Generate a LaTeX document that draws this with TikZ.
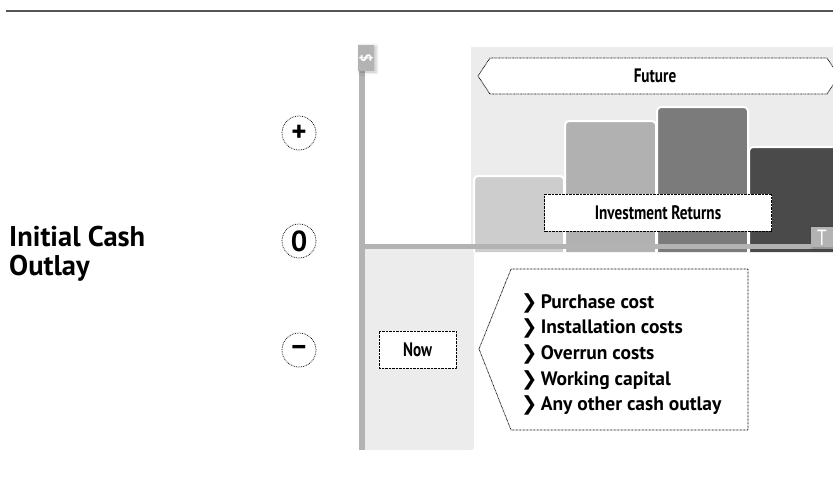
\documentclass[tikz,border=0pt]{standalone}
\usepackage{fontspec}
\setmainfont{PT Sans}
\newfontfamily\condfont[FakeStretch=0.78]{PT Sans}
\newfontfamily\symfont{DejaVu Sans}
\usetikzlibrary{shadows.blur}

\definecolor{axisgray}{HTML}{B3B3B3}
\definecolor{panelgray}{HTML}{ECECEC}
\definecolor{barA}{HTML}{CDCDCD}
\definecolor{barB}{HTML}{B1B1B1}
\definecolor{barC}{HTML}{7B7B7B}
\definecolor{barD}{HTML}{4A4A4A}
\definecolor{rulegray}{HTML}{555555}

\begin{document}
\begin{tikzpicture}[x=1pt,y=-1pt,
  dotline/.style={draw=black, line width=0.75pt, dash pattern=on 0.75pt off 0.65pt},
  dotbox/.style={dotline, fill=white, inner sep=0pt},
  labeltext/.style={font=\condfont\bfseries\fontsize{19.5}{19.5}\selectfont},
  signcircle/.style={circle, draw=black, line width=0.75pt, dash pattern=on 0.75pt off 1pt,
    minimum size=34pt, inner sep=0pt, font=\bfseries\fontsize{29}{29}\selectfont},
  bar/.style={draw=white, line width=2pt, rounded corners=4pt},
  tab/.style={fill=axisgray, blur shadow={shadow xshift=2pt, shadow yshift=-1pt,
    shadow opacity=25, shadow blur radius=3pt}},
  axis/.style={fill=axisgray},
]
\useasboundingbox (0,0) rectangle (833,479);
\clip (0,0) rectangle (833,479);

% header rule
\draw[rulegray, line width=2.5pt] (6,11) -- (833,11);

% background panels
\fill[panelgray] (471,47) rectangle (840,246);
\fill[panelgray] (365,249) -- (474,249) -- (474,444) .. controls (474,450) .. (468,450) -- (365,450) -- cycle;

% return bars
\draw[bar, fill=barA] (474,252) -- (474,176) -- (564,176) -- (564,252);
\draw[bar, fill=barB] (565,252) -- (565,121) -- (656,121) -- (656,252);
\draw[bar, fill=barC] (657,252) -- (657,107) -- (748,107) -- (748,252);
\draw[bar, fill=barD] (749,252) -- (749,147) -- (845,147) -- (845,252);

% axes
\fill[axis] (359,68) rectangle (365,450);
\fill[axis] (363,244) rectangle (840,249);

% axis tabs
\node[tab, minimum width=16pt, minimum height=26pt, inner sep=0pt] (money) at (366,58) {};
\node[text=white, rotate=90, font=\bfseries\fontsize{15}{15}\selectfont] (moneysign) at (money.center) {\$};
\node[tab, minimum width=26pt, minimum height=20pt, inner sep=0pt] (time) at (824,237) {};
\node[text=white, font=\condfont\fontsize{22}{22}\selectfont] (timesign) at (822,238) {T};

% future banner
\draw[dotline, fill=white] (478,76) -- (490,58) -- (827,58) -- (839,76) -- (827,94) -- (490,94) -- cycle;
\node[labeltext] (future) at (655,76) {Future};

% investment returns label
\node[dotbox, labeltext, minimum width=227pt, minimum height=37pt] (returns) at (658,212.5) {Investment Returns};

% now label
\node[dotbox, labeltext, minimum width=77pt, minimum height=37pt] (now) at (417.5,349.5) {Now};

% outlay list
\draw[dotline, fill=white] (479,349) -- (511,269) -- (748,269) -- (748,430) -- (511,430) -- cycle;
\node[anchor=west, align=left, inner sep=0pt, font=\bfseries\fontsize{19.5}{25.7}\selectfont] (outlays) at (521,354.5)
  {{\symfont\bfseries ❯}\,Purchase cost\\
   {\symfont\bfseries ❯}\,Installation costs\\
   {\symfont\bfseries ❯}\,Overrun costs\\
   {\symfont\bfseries ❯}\,Working capital\\
   {\symfont\bfseries ❯}\,Any other cash outlay};

% sign markers
\node[signcircle] (plus) at (299,133) {+};
\node[signcircle] (zero) at (299,241) {0};
\node[signcircle] (minus) at (299,350) {–};

% title
\node[anchor=west, align=left, inner sep=0pt, font=\bfseries\fontsize{28.5}{29}\selectfont] (title) at (9,254)
  {Initial Cash\\Outlay};
\end{tikzpicture}
\end{document}
